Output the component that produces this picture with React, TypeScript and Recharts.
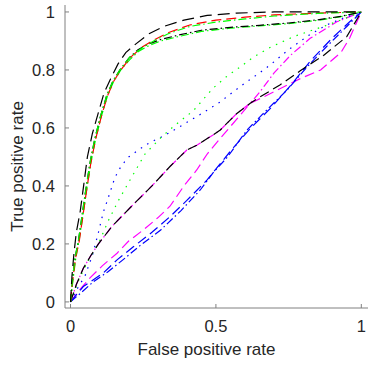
import { LineChart, Line, XAxis, YAxis } from "recharts";

// ROC curves
const blackDashFpr = [0, 0.005, 0.012, 0.02, 0.033, 0.045, 0.058, 0.075, 0.095, 0.115, 0.138, 0.163, 0.19, 0.225, 0.27, 0.32, 0.39, 0.47, 0.57, 0.7, 0.85, 1];
const blackDashTpr = [0, 0.09, 0.17, 0.24, 0.31, 0.4, 0.5, 0.58, 0.65, 0.72, 0.77, 0.82, 0.86, 0.89, 0.925, 0.95, 0.972, 0.988, 0.996, 1, 1, 1];

const redDashFpr = [0, 0.008, 0.017, 0.03, 0.043, 0.056, 0.07, 0.086, 0.106, 0.127, 0.148, 0.173, 0.208, 0.248, 0.29, 0.34, 0.41, 0.5, 0.6, 0.7, 0.85, 1];
const redDashTpr = [0, 0.08, 0.15, 0.21, 0.3, 0.39, 0.48, 0.56, 0.64, 0.71, 0.76, 0.8, 0.845, 0.88, 0.905, 0.93, 0.955, 0.972, 0.982, 0.99, 0.996, 1];

const greenDashFpr = [0, 0.007, 0.015, 0.027, 0.04, 0.053, 0.067, 0.083, 0.103, 0.124, 0.145, 0.17, 0.204, 0.244, 0.286, 0.336, 0.41, 0.5, 0.6, 0.7, 0.85, 1];
const greenDashTpr = [0, 0.08, 0.15, 0.21, 0.3, 0.39, 0.48, 0.56, 0.64, 0.71, 0.76, 0.8, 0.845, 0.875, 0.9, 0.925, 0.95, 0.965, 0.976, 0.986, 0.995, 1];

const blackDashDotFpr = [0, 0.007, 0.015, 0.027, 0.04, 0.053, 0.067, 0.083, 0.103, 0.124, 0.145, 0.17, 0.2, 0.232, 0.27, 0.31, 0.37, 0.45, 0.55, 0.65, 0.75, 0.85, 0.93, 1];
const blackDashDotTpr = [0, 0.08, 0.15, 0.21, 0.3, 0.39, 0.48, 0.56, 0.64, 0.71, 0.76, 0.8, 0.84, 0.87, 0.89, 0.905, 0.92, 0.937, 0.947, 0.954, 0.962, 0.973, 0.985, 1];

const greenDashDotFpr = [0, 0.009, 0.018, 0.029, 0.043, 0.056, 0.07, 0.086, 0.106, 0.127, 0.148, 0.173, 0.203, 0.235, 0.272, 0.31, 0.37, 0.45, 0.55, 0.65, 0.75, 0.85, 0.93, 1];
const greenDashDotTpr = [0, 0.08, 0.15, 0.21, 0.3, 0.39, 0.48, 0.56, 0.64, 0.71, 0.76, 0.8, 0.835, 0.865, 0.885, 0.9, 0.915, 0.933, 0.944, 0.952, 0.96, 0.971, 0.984, 1];

const blueDotFpr = [0, 0.02, 0.05, 0.075, 0.096, 0.113, 0.13, 0.153, 0.175, 0.2, 0.235, 0.27, 0.315, 0.36, 0.41, 0.46, 0.515, 0.56, 0.6, 0.65, 0.69, 0.75, 0.82, 0.88, 0.94, 1];
const blueDotTpr = [0, 0.04, 0.09, 0.16, 0.24, 0.31, 0.36, 0.43, 0.47, 0.5, 0.525, 0.548, 0.57, 0.595, 0.625, 0.655, 0.69, 0.725, 0.755, 0.79, 0.82, 0.87, 0.92, 0.955, 0.98, 1];

const greenDotFpr = [0, 0.03, 0.06, 0.1, 0.13, 0.165, 0.21, 0.256, 0.314, 0.36, 0.423, 0.49, 0.54, 0.583, 0.63, 0.687, 0.767, 0.884, 0.95, 1];
const greenDotTpr = [0, 0.08, 0.14, 0.21, 0.28, 0.35, 0.43, 0.51, 0.57, 0.61, 0.66, 0.737, 0.78, 0.81, 0.845, 0.878, 0.915, 0.955, 0.98, 1];

const midBlackFpr = [0, 0.02, 0.044, 0.07, 0.096, 0.142, 0.21, 0.28, 0.342, 0.4, 0.434, 0.49, 0.515, 0.572, 0.618, 0.64, 0.72, 0.79, 0.87, 0.95, 1];
const midBlackTpr = [0, 0.06, 0.116, 0.16, 0.2, 0.26, 0.33, 0.4, 0.467, 0.524, 0.54, 0.576, 0.593, 0.65, 0.685, 0.7, 0.748, 0.797, 0.85, 0.915, 1];

const magentaDashDotFpr = [0, 0.02, 0.044, 0.07, 0.096, 0.142, 0.21, 0.28, 0.342, 0.4, 0.434, 0.49, 0.515, 0.572, 0.618, 0.652, 0.7, 0.756, 0.824, 0.916, 1];
const magentaDashDotTpr = [0, 0.06, 0.116, 0.16, 0.2, 0.26, 0.33, 0.4, 0.467, 0.524, 0.54, 0.576, 0.593, 0.65, 0.685, 0.725, 0.79, 0.85, 0.909, 0.966, 1];

const magentaDashFpr = [0, 0.03, 0.067, 0.11, 0.16, 0.2, 0.25, 0.3, 0.342, 0.39, 0.434, 0.47, 0.52, 0.58, 0.618, 0.66, 0.72, 0.79, 0.86, 0.93, 0.96, 1];
const magentaDashTpr = [0, 0.04, 0.083, 0.125, 0.168, 0.21, 0.248, 0.29, 0.33, 0.4, 0.455, 0.51, 0.57, 0.64, 0.685, 0.705, 0.735, 0.77, 0.8, 0.86, 0.91, 1];

const blueDashFpr = [0, 0.044, 0.113, 0.16, 0.216, 0.28, 0.342, 0.4, 0.469, 0.55, 0.62, 0.69, 0.76, 0.824, 0.9, 0.96, 1];
const blueDashTpr = [0, 0.053, 0.1, 0.145, 0.19, 0.24, 0.294, 0.35, 0.42, 0.52, 0.6, 0.67, 0.75, 0.83, 0.91, 0.966, 1];

const blueDashDotFpr = [0, 0.04, 0.079, 0.13, 0.18, 0.24, 0.31, 0.38, 0.446, 0.49, 0.54, 0.607, 0.675, 0.744, 0.813, 0.88, 0.95, 1];
const blueDashDotTpr = [0, 0.035, 0.07, 0.105, 0.145, 0.195, 0.248, 0.315, 0.386, 0.445, 0.5, 0.593, 0.662, 0.73, 0.81, 0.88, 0.95, 1];

const xTicks = [0, 0.5, 1];
const yTicks = [0, 0.2, 0.4, 0.6, 0.8, 1];

const pts = (xs: number[], ys: number[]) => xs.map((x, i) => ({ fpr: x, tpr: ys[i] }));

const DASH = "10 5";
const DASH_DOT = "8 3 1.5 3";
const DOT = "1.5 6";

const series = [
  { key: "magentaDash", data: pts(magentaDashFpr, magentaDashTpr), color: "#ff00ff", dash: DASH },
  { key: "magentaDashDot", data: pts(magentaDashDotFpr, magentaDashDotTpr), color: "#ff00ff", dash: DASH_DOT },
  { key: "blueDash", data: pts(blueDashFpr, blueDashTpr), color: "#0000ff", dash: DASH },
  { key: "blueDashDot", data: pts(blueDashDotFpr, blueDashDotTpr), color: "#0000ff", dash: DASH_DOT },
  { key: "blueDot", data: pts(blueDotFpr, blueDotTpr), color: "#0000ff", dash: DOT },
  { key: "greenDot", data: pts(greenDotFpr, greenDotTpr), color: "#00ff00", dash: DOT },
  { key: "midBlack", data: pts(midBlackFpr, midBlackTpr), color: "#000000", dash: DASH },
  { key: "greenDashDot", data: pts(greenDashDotFpr, greenDashDotTpr), color: "#00ff00", dash: DASH_DOT },
  { key: "blackDashDot", data: pts(blackDashDotFpr, blackDashDotTpr), color: "#000000", dash: DASH_DOT },
  { key: "redDash", data: pts(redDashFpr, redDashTpr), color: "#ff0000", dash: DASH },
  { key: "greenDash", data: pts(greenDashFpr, greenDashTpr), color: "#00ff00", dash: DASH_DOT },
  { key: "blackDash", data: pts(blackDashFpr, blackDashTpr), color: "#000000", dash: "12 6" },
];

const AXIS = "#808080";
const TEXT = "#262626";
const FONT = "'Liberation Sans', Arial, sans-serif";
const X_DOMAIN: [number, number] = [-0.019, 1.023];
const Y_DOMAIN: [number, number] = [-0.021, 1.024];
const X_GAP = 12;
const Y_GAP = 10;
const TICK_LEN = 4;

const BottomTick = ({ x, y, payload }: any) => (
  <g>
    <line x1={x} x2={x} y1={y - X_GAP} y2={y - X_GAP - TICK_LEN} stroke={AXIS} />
    <text x={x} y={y} dy="0.71em" textAnchor="middle" fill={TEXT} fontSize={16.5} fontFamily={FONT}>
      {payload.value}
    </text>
  </g>
);

const LeftTick = ({ x, y, payload }: any) => (
  <g>
    <line x1={x + Y_GAP} x2={x + Y_GAP + TICK_LEN} y1={y} y2={y} stroke={AXIS} />
    <text x={x} y={y} dy="0.355em" textAnchor="end" fill={TEXT} fontSize={16.5} fontFamily={FONT}>
      {payload.value}
    </text>
  </g>
);

const TopTick = ({ x, y }: any) => <line x1={x} x2={x} y1={y} y2={y + TICK_LEN} stroke={AXIS} />;
const RightTick = ({ x, y }: any) => <line x1={x - TICK_LEN} x2={x} y1={y} y2={y} stroke={AXIS} />;

export default function App() {
  return (
    <div style={{ position: "absolute", left: 0, top: 0, background: "#fff" }}>
      <LineChart width={374} height={367} margin={{ top: 5, right: 6, bottom: 0, left: 0 }}>
        <XAxis
          dataKey="fpr"
          type="number"
          domain={X_DOMAIN}
          allowDataOverflow
          ticks={xTicks}
          height={59}
          tickSize={0}
          tickMargin={X_GAP}
          tickLine={false}
          axisLine={{ stroke: AXIS }}
          tick={<BottomTick />}
          label={{
            content: ({ viewBox }: any) => (
              <text
                x={viewBox.x + viewBox.width / 2 - 10}
                y={viewBox.y + viewBox.height - 12}
                textAnchor="middle"
                fill={TEXT}
                fontSize={17}
                fontFamily={FONT}
              >
                False positive rate
              </text>
            ),
          }}
        />
        <XAxis
          xAxisId="top"
          orientation="top"
          type="number"
          domain={X_DOMAIN}
          allowDataOverflow
          ticks={xTicks}
          height={0}
          tickSize={0}
          tickMargin={0}
          tickLine={false}
          axisLine={{ stroke: AXIS }}
          tick={<TopTick />}
        />
        <YAxis
          dataKey="tpr"
          type="number"
          domain={Y_DOMAIN}
          allowDataOverflow
          ticks={yTicks}
          width={65}
          tickSize={0}
          tickMargin={Y_GAP}
          tickLine={false}
          axisLine={{ stroke: AXIS }}
          tick={<LeftTick />}
          label={{
            content: ({ viewBox }: any) => {
              const cx = viewBox.x + 22.5;
              const cy = viewBox.y + viewBox.height / 2 + 10;
              return (
                <text
                  x={cx}
                  y={cy}
                  transform={`rotate(-90, ${cx}, ${cy})`}
                  textAnchor="middle"
                  fill={TEXT}
                  fontSize={17}
                  fontFamily={FONT}
                >
                  True positive rate
                </text>
              );
            },
          }}
        />
        <YAxis
          yAxisId="right"
          orientation="right"
          type="number"
          domain={Y_DOMAIN}
          allowDataOverflow
          ticks={yTicks}
          width={0}
          tickSize={0}
          tickMargin={0}
          tickLine={false}
          axisLine={{ stroke: AXIS }}
          tick={<RightTick />}
        />
        {series.map((s) => (
          <Line
            key={s.key}
            data={s.data}
            dataKey="tpr"
            type="linear"
            stroke={s.color}
            strokeWidth={1.2}
            strokeDasharray={s.dash}
            dot={false}
            activeDot={false}
            isAnimationActive={false}
          />
        ))}
      </LineChart>
    </div>
  );
}
